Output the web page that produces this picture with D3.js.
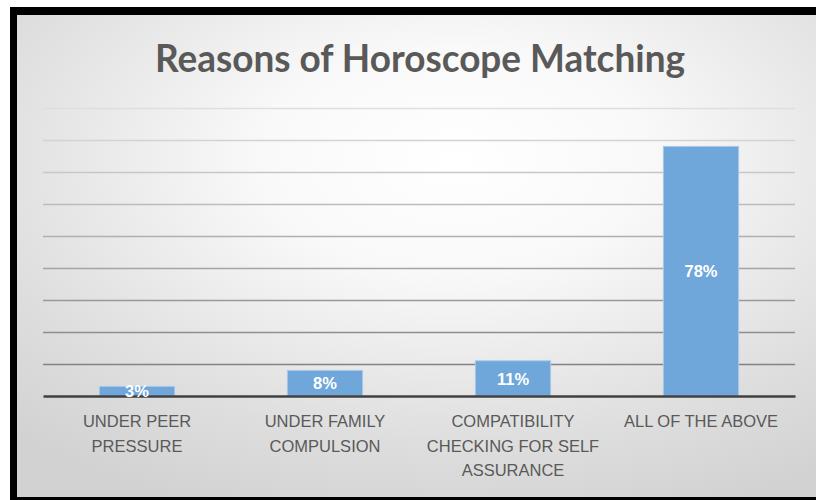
<!DOCTYPE html>
<html>
<head>
<meta charset="utf-8">
<script src="https://cdn.jsdelivr.net/npm/d3@7"></script>
<style>
  html, body { margin: 0; padding: 0; background: #ffffff; overflow: hidden; }
  svg { display: block; }
</style>
</head>
<body>
<script>
// ---- data ----
const title = "Reasons of Horoscope Matching";
const categories = ["UNDER PEER PRESSURE", "UNDER FAMILY COMPULSION", "COMPATIBILITY CHECKING FOR SELF ASSURANCE", "ALL OF THE ABOVE"];
const values = [3, 8, 11, 78];
const valueLabels = ["3%", "8%", "11%", "78%"];
const gridTicks = [0, 10, 20, 30, 40, 50, 60, 70, 80, 90];

const W = 816, H = 500;
const svg = d3.select("body").append("svg").attr("width", W).attr("height", H);

const defs = svg.append("defs");
const rg = defs.append("radialGradient").attr("id", "bg")
  .attr("cx", 0.53).attr("cy", 0.3).attr("r", 0.78).attr("fx", 0.53).attr("fy", 0.3);
rg.append("stop").attr("offset", 0).attr("stop-color", "#ffffff");
rg.append("stop").attr("offset", 0.3).attr("stop-color", "#f9f9f9");
rg.append("stop").attr("offset", 0.75).attr("stop-color", "#dedede");
rg.append("stop").attr("offset", 1).attr("stop-color", "#d2d2d2");

// frame
svg.append("rect").attr("x", 10).attr("y", 7).attr("width", W + 20).attr("height", H).attr("fill", "#000");
svg.append("rect").attr("x", 17).attr("y", 15).attr("width", W + 10).attr("height", 482).attr("fill", "url(#bg)");

// scales
const x = d3.scaleBand().domain(categories).range([43, 795]).paddingInner(0.6).paddingOuter(0.3);
const y = d3.scaleLinear().domain([0, 90]).range([396, 108]);
const gridColor = d3.scaleLinear().domain([90, 10]).range(["#dedede", "#828282"]);

// gridlines via axis
const grid = svg.append("g").attr("transform", "translate(43,0)")
  .call(d3.axisLeft(y).tickValues(gridTicks.filter(d => d > 0)).tickSize(-(795 - 43)).tickFormat(""));
grid.select(".domain").remove();
grid.selectAll(".tick line").attr("stroke", d => gridColor(d)).attr("stroke-width", 1.4);

// bars
svg.append("g").selectAll("rect").data(values).join("rect")
  .attr("x", (d, i) => x(categories[i]))
  .attr("y", d => y(d))
  .attr("width", x.bandwidth())
  .attr("height", d => y(0) - y(d))
  .attr("fill", "#6fa7da")
  .attr("stroke", "#a8c9e8")
  .attr("stroke-width", 1);

// axis line
const xa = svg.append("g").attr("transform", `translate(0,${y(0)})`)
  .call(d3.axisBottom(x).tickSize(0).tickFormat(""));
xa.select(".domain").attr("stroke", "#404040").attr("stroke-width", 2.5);

// data labels
svg.append("g").selectAll("text").data(values).join("text")
  .attr("x", (d, i) => x(categories[i]) + x.bandwidth() / 2)
  .attr("y", d => (y(d) + y(0)) / 2)
  .attr("dy", "0.38em")
  .attr("text-anchor", "middle")
  .attr("font-family", "'Liberation Sans', Arial, sans-serif")
  .attr("font-weight", "bold")
  .attr("font-size", 16.5)
  .attr("fill", "#ffffff")
  .text((d, i) => valueLabels[i]);

// category labels (wrapped)
const labelFont = "'Liberation Sans', Arial, sans-serif";
const catG = svg.append("g");
categories.forEach((c, i) => {
  const t = catG.append("text")
    .attr("text-anchor", "middle")
    .attr("font-family", labelFont)
    .attr("font-size", 16.5)
    .attr("fill", "#595959");
  const words = c.split(" ");
  const lines = [];
  let cur = [];
  const probe = catG.append("text").attr("font-family", labelFont).attr("font-size", 16.5);
  words.forEach(w => {
    const test = cur.concat([w]).join(" ");
    probe.text(test);
    if (probe.node().getComputedTextLength() > 185 && cur.length) {
      lines.push(cur.join(" "));
      cur = [w];
    } else cur.push(w);
  });
  lines.push(cur.join(" "));
  probe.remove();
  const cx = x(c) + x.bandwidth() / 2;
  lines.forEach((l, j) => {
    t.append("tspan").attr("x", cx).attr("y", 427 + j * 24.6).text(l);
  });
});

// title
svg.append("text")
  .attr("x", 420).attr("y", 72)
  .attr("text-anchor", "middle")
  .attr("font-family", "Lato, 'Open Sans', sans-serif")
  .attr("font-weight", "bold")
  .attr("font-size", 38)
  .attr("fill", "#595959")
  .attr("textLength", 530)
  .attr("lengthAdjust", "spacingAndGlyphs")
  .text(title);
</script>
</body>
</html>
